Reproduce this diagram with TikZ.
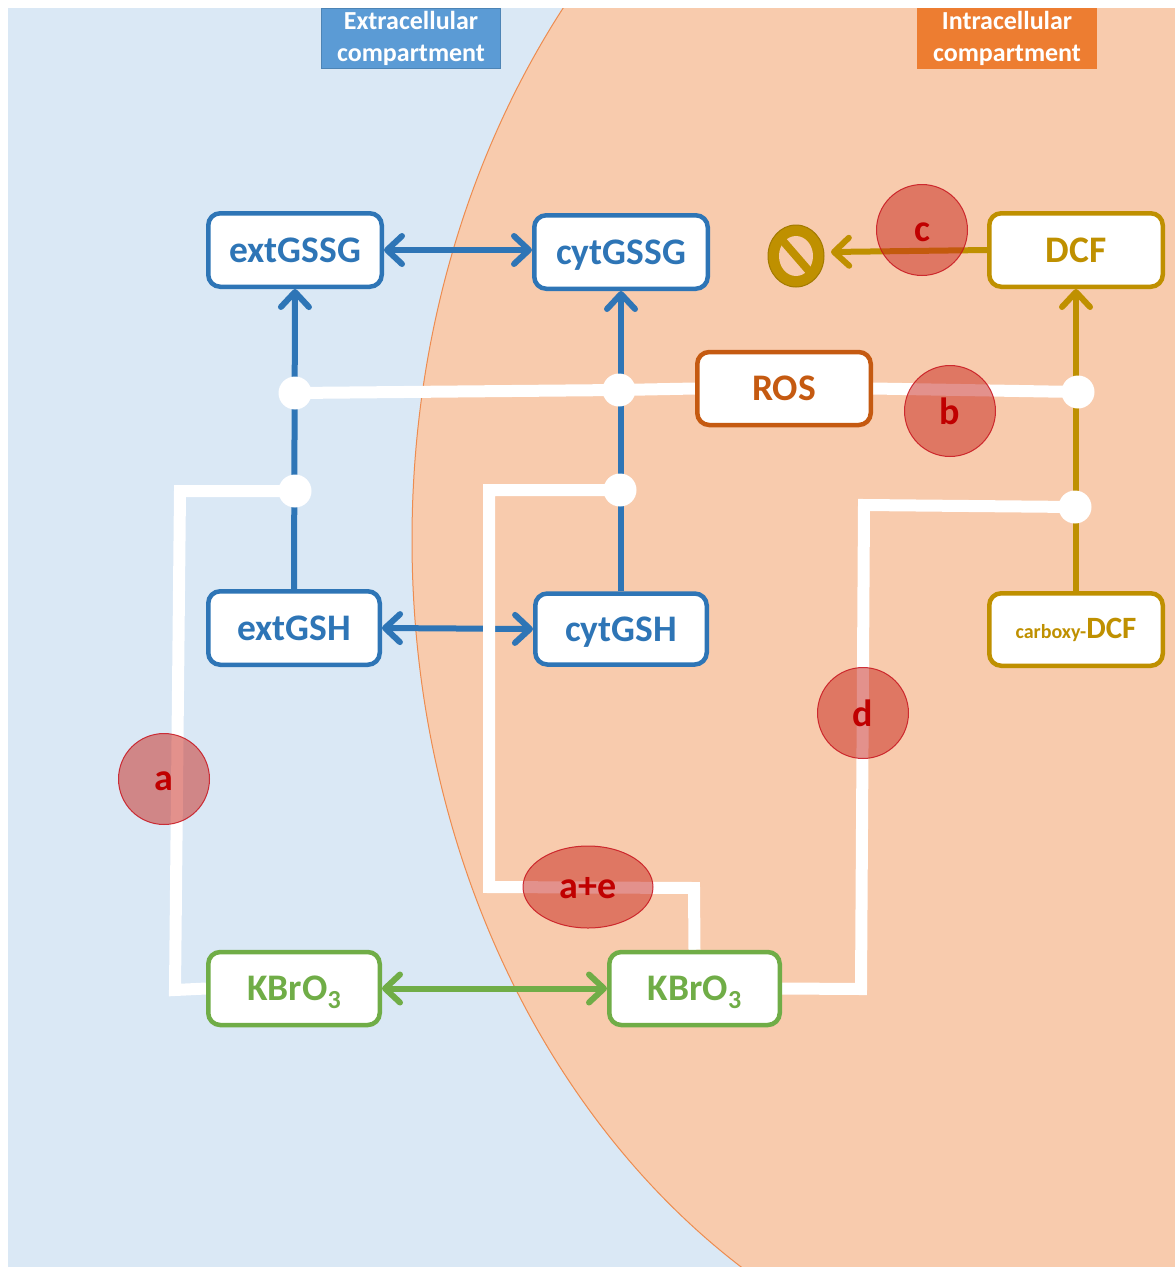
\documentclass[tikz,border=0pt]{standalone}
\usepackage{fontspec}
\setmainfont{Carlito}[BoldFont={Carlito Bold}]
\usetikzlibrary{arrows.meta,shapes.geometric}
\pgfdeclarelayer{back}
\pgfdeclarelayer{lines}
\pgfsetlayers{back,lines,main}
\definecolor{cellblue}{RGB}{218,232,245}
\definecolor{cellpeach}{RGB}{248,203,173}
\definecolor{celledge}{RGB}{237,140,80}
\definecolor{bluec}{RGB}{46,117,182}
\definecolor{goldc}{RGB}{191,144,0}
\definecolor{rosc}{RGB}{197,90,17}
\definecolor{greenc}{RGB}{112,173,71}
\definecolor{redtxt}{RGB}{192,0,0}
\definecolor{redfill}{RGB}{200,37,27}
\definecolor{rededge}{RGB}{200,20,30}
\definecolor{tagblue}{RGB}{91,155,213}
\definecolor{tagorange}{RGB}{237,125,49}
\tikzset{
  x=1pt,y=-1pt,
  box/.style={draw,line width=4.5pt,rounded corners=12pt,fill=white,minimum width=173.5pt,minimum height=73.5pt,inner sep=0pt,text height=24pt,text depth=0pt,font=\fontsize{37.5}{40}\selectfont\bfseries},
  bluebox/.style={box,draw=bluec,text=bluec},
  goldbox/.style={box,draw=goldc,text=goldc},
  rosbox/.style={box,draw=rosc,text=rosc},
  greenbox/.style={box,draw=greenc,text=greenc},
  tag/.style={draw,line width=1pt,minimum width=179pt,minimum height=60pt,inner sep=0pt,align=center,text=white,font=\fontsize{26}{32}\selectfont\bfseries},
  junction/.style={circle,fill=white,minimum size=33pt,inner sep=0pt},
  lettermark/.style={fill=redfill,fill opacity=.5,draw=rededge,draw opacity=.85,text opacity=1,text=redtxt,line width=1pt,inner sep=0pt,text height=23pt,text depth=0pt,font=\fontsize{38}{40}\selectfont\bfseries},
  markc/.style={lettermark,circle,minimum size=91pt},
  marke/.style={lettermark,ellipse,minimum width=130pt,minimum height=82pt},
  tallmark/.style={text height=26pt},
  wire/.style={draw=white,line width=12pt,line join=miter},
  conn/.style={line width=6pt,{Straight Barb[length=15pt,width=28pt,line width=6pt,round]}-{Straight Barb[length=15pt,width=28pt,line width=6pt,round]}},
  arrone/.style={line width=6pt,-{Straight Barb[length=15pt,width=28pt,line width=6pt,round]}},
}
\newcommand{\kbro}{KBrO\raisebox{-.22em}{\fontsize{26}{26}\selectfont 3}}
\begin{document}
\begin{tikzpicture}
\useasboundingbox (0,0) rectangle (1175,1267);
\begin{pgfonlayer}{back}
  \fill[cellblue] (8,8) rectangle (1175,1267);
  \begin{scope}
    \clip (8,8) rectangle (1175,1267);
    \path[fill=cellpeach,draw=celledge,line width=1pt] (1112,540) ellipse [x radius=700,y radius=857];
  \end{scope}
\end{pgfonlayer}

% compartment tags
\node[tag,fill=tagblue,draw=tagblue!85!black] (extag) at (411,38) {\raisebox{-1pt}{Extracellular}\\\raisebox{-1pt}{compartment}};
\node[tag,fill=tagorange,draw=tagorange] (intag) at (1007,38) {\raisebox{-1pt}{Intracellular}\\\raisebox{-1pt}{compartment}};

% boxes
\node[bluebox] (extGSSG) at (295,250) {extGSSG};
\node[bluebox] (cytGSSG) at (621,252) {cytGSSG};
\node[goldbox] (DCF) at (1076,250) {DCF};
\node[rosbox,minimum height=73pt] (ROS) at (784,388.5) {ROS};
\node[bluebox,minimum width=171.5pt] (extGSH) at (294,628) {extGSH};
\node[bluebox,minimum width=171.5pt,minimum height=71pt] (cytGSH) at (621,629) {cytGSH};
\node[goldbox,minimum height=72.5pt,text height=17pt] (cDCF) at (1076,629.5) {{\fontsize{20}{24}\selectfont carboxy-}{\fontsize{31}{32}\selectfont DCF}};
\node[greenbox,minimum width=171.5pt,minimum height=73pt] (KL) at (294,988.5) {\kbro};
\node[greenbox,minimum width=170.5pt,minimum height=73pt] (KR) at (694.5,988.5) {\kbro};

% junctions
\node[junction] (j1) at (295,393) {};
\node[junction] (j2) at (619,390) {};
\node[junction] (j3) at (1078,392) {};
\node[junction] (j4) at (295,491) {};
\node[junction] (j5) at (620,490) {};
\node[junction] (j6) at (1075,507) {};

% routing points
\coordinate (w1) at (175,990);
\coordinate (w2) at (180,491);
\coordinate (w3) at (694,888);
\coordinate (w4) at (489,887);
\coordinate (w5) at (489,490);
\coordinate (w6) at (861,989);
\coordinate (w7) at (864,505);

% no-entry sign
\node[ellipse,draw=goldc!85!black,line width=1pt,fill=goldc,minimum width=56pt,minimum height=62pt,inner sep=0pt] (stop) at (796,256) {};
\fill[cellpeach] (stop.center) ellipse [x radius=17,y radius=20];
\draw[goldc,line width=8pt] (783,241) -- (809,271);
\coordinate (stoptip) at (831,252);

\begin{pgfonlayer}{lines}
  \draw[bluec,conn] (extGSSG.east) -- (cytGSSG.west |- extGSSG.east);
  \draw[bluec,conn] (extGSH.east) -- (cytGSH.west);
  \draw[greenc,conn] (KL.east) -- (KR.west);
  \draw[bluec,arrone] (extGSH.north) -- (extGSSG.south);
  \draw[bluec,arrone] (cytGSH.north) -- (cytGSSG.south);
  \draw[goldc,arrone] (cDCF.north) -- (DCF.south);
  \draw[goldc,arrone] (DCF.west) -- (stoptip);
  \draw[wire] (ROS.west) -- (j2.center) -- (j1.center);
  \draw[wire] (ROS.east) -- (j3.center);
  \draw[wire] (KL.west) -- (w1) -- (w2) -- (j4.center);
  \draw[wire] (KR.north) -- (w3) -- (w4) -- (w5) -- (j5.center);
  \draw[wire] (KR.east) -- (w6) -- (w7) -- (j6.center);
\end{pgfonlayer}

% letter marks
\node[markc] (ma) at (164,779) {a};
\node[markc,tallmark] (mb) at (950,411) {b};
\node[markc] (mc) at (922,230) {c};
\node[markc,tallmark] (md) at (863,713) {d};
\node[marke] (me) at (588,887) {a+e};
\end{tikzpicture}
\end{document}
